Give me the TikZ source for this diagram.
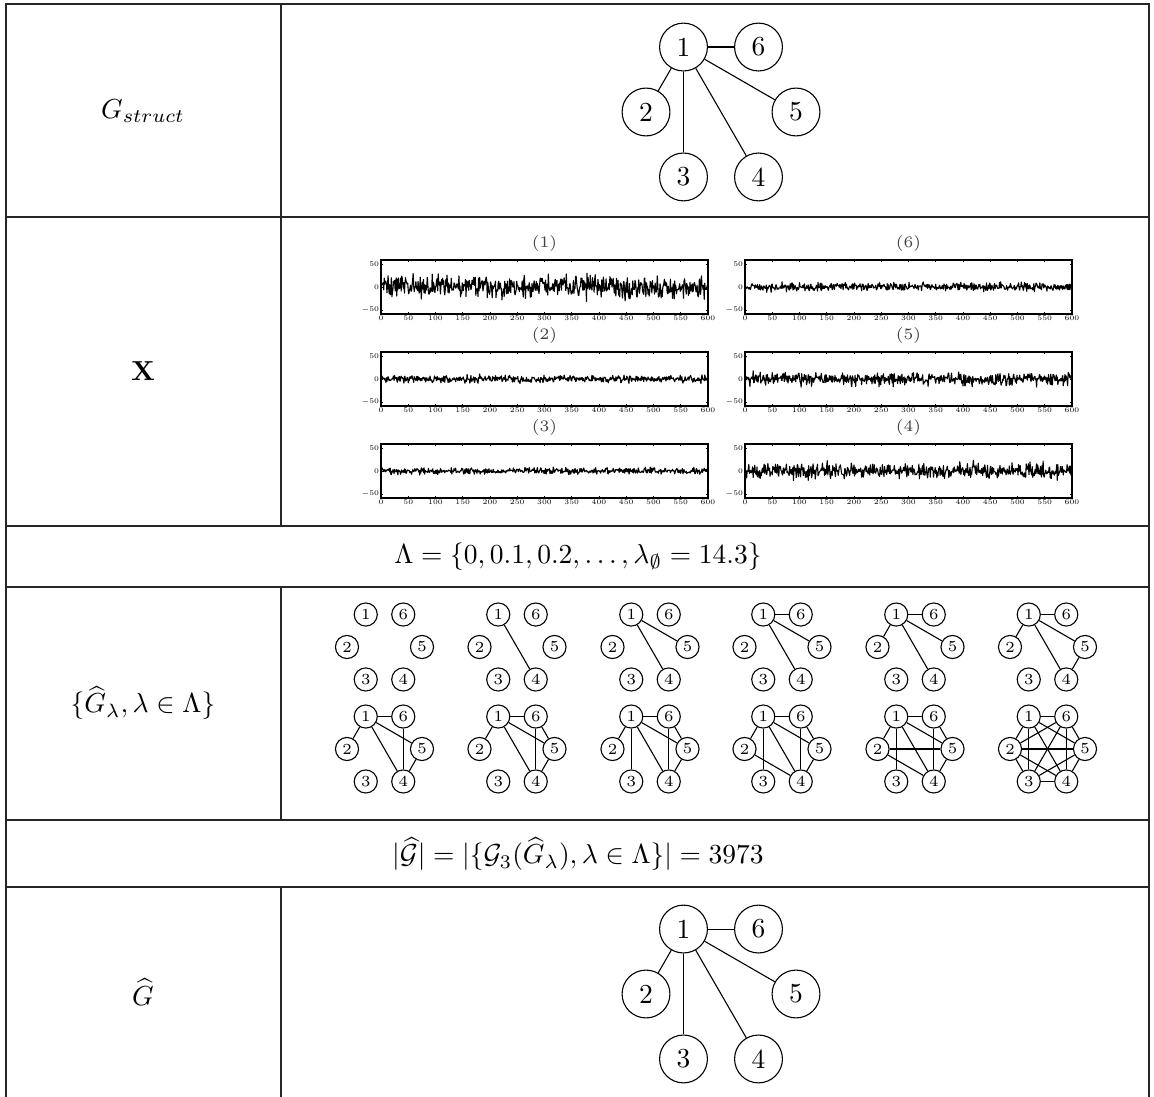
\documentclass[tikz,border=0pt]{standalone}
\usepackage{amsmath,amsfonts,amssymb}
\usepackage{tikz}
\usetikzlibrary{calc}

\begin{document}
\begin{tikzpicture}[
    x=0.3636pt, y=-0.3636pt,
    font=\normalsize,
    rule/.style={line width=0.45pt, black!85},
    vert/.style={draw, circle, inner sep=0pt, minimum size=17.4pt},
    svert/.style={draw, circle, inner sep=0pt, minimum size=8.4pt, font=\fontsize{5.6}{6}\selectfont},
    edge/.style={line width=0.4pt},
    axbox/.style={line width=0.5pt},
    tickmark/.style={line width=0.25pt},
    tlab/.style={inner sep=1.2pt, font=\tiny, scale=0.52},
    ptitle/.style={font=\fontsize{5.8}{6}\selectfont, text=black!75},
    sig/.style={line width=0.4pt, line join=round}
]
\useasboundingbox (0,0) rectangle (1154,1097);
\pgfmathsetseed{7}

% table rules
\draw[rule] (6,1097) -- (6,4) -- (1149,4) -- (1149,1097);
\foreach \ry in {217,526,587,820,887}
  \draw[rule] (6,\ry) -- (1149,\ry);
\draw[rule] (281,4) -- (281,526);
\draw[rule] (281,587) -- (281,820);
\draw[rule] (281,887) -- (281,1097);

% row labels
\node (lstruct) at (143,111) {$G_{struct}$};
\node (lx) at (143,371) {$\mathbf{X}$};
\node (llam) at (578,557) {$\Lambda = \{0, 0.1, 0.2, \ldots, \lambda_{\emptyset} = 14.3\}$};
\node (lpath) at (143,703) {$\{\widehat{G}_\lambda, \lambda \in \Lambda\}$};
\node (lcard) at (578,854) {$|\widehat{\mathcal{G}}| = |\{\mathcal{G}_3(\widehat{G}_\lambda), \lambda \in \Lambda\}| = 3973$};
\node (lhat) at (143,992) {$\widehat{G}$};

% structural graph and estimate
\begin{scope}[shift={(721,112)}]
  \foreach \n/\a in {1/240,6/300,5/0,4/60,3/120,2/180}
    \node[vert] (s\n) at (\a:75) {\n};
\end{scope}
\begin{scope}[shift={(721,994)}]
  \foreach \n/\a in {1/240,6/300,5/0,4/60,3/120,2/180}
    \node[vert] (h\n) at (\a:75) {\n};
\end{scope}
\foreach \v in {6,2,3,4,5} {
  \draw[edge] (s1) -- (s\v);
  \draw[edge] (h1) -- (h\v);
}

% time series
\foreach \nm/\px/\py/\amp in {1/381/260/12, 2/381/352/4, 3/381/444/3.5, 6/745/260/4.5, 5/745/352/7, 4/745/444/8} {
  \begin{scope}[shift={(\px,\py)}]
    \node[ptitle] (t\nm) at (163.5,-16) {(\nm)};
    \draw[sig] plot[domain=0:600, samples=601] ({\x*0.545}, {27-\amp*(rand+rand+rand)*0.46});
    \foreach \t in {0,50,...,600} {
      \draw[tickmark] (\t*0.545,54) -- ++(0,-2);
      \draw[tickmark] (\t*0.545,0) -- ++(0,2);
      \node[tlab, below] at (\t*0.545,54) {\t};
    }
    \foreach \v in {50,0,-50} {
      \draw[tickmark] (0,27-\v*0.46) -- ++(2,0);
      \draw[tickmark] (327,27-\v*0.46) -- ++(-2,0);
      \node[tlab, left] at (0,27-\v*0.46) {$\v$};
    }
    \draw[axbox] (0,0) rectangle (327,54);
  \end{scope}
}

% regularisation path
\foreach \g/\cx/\cy in {a/384.5/647, b/517/647, c/650/647, d/782/647, e/915/647, f/1047.5/647,
                         g/384.5/749, h/517/749, i/650/749, j/782/749, k/915/749, l/1047.5/749} {
  \begin{scope}[shift={(\cx,\cy)}]
    \foreach \n/\a in {1/240,6/300,5/0,4/60,3/120,2/180}
      \node[svert] (\g\n) at (\a:37.5) {\n};
  \end{scope}
}
\foreach \u/\v in {1/4} \draw[edge] (b\u) -- (b\v);
\foreach \u/\v in {1/4,1/5} \draw[edge] (c\u) -- (c\v);
\foreach \u/\v in {1/6,1/5,1/4} \draw[edge] (d\u) -- (d\v);
\foreach \u/\v in {1/6,1/2,1/5,1/4} \draw[edge] (e\u) -- (e\v);
\foreach \u/\v in {1/6,1/2,1/5,1/4,5/4} \draw[edge] (f\u) -- (f\v);
\foreach \u/\v in {1/6,1/2,1/5,1/4,6/4,5/4} \draw[edge] (g\u) -- (g\v);
\foreach \u/\v in {1/6,1/2,1/5,1/4,6/4,6/5,5/4} \draw[edge] (h\u) -- (h\v);
\foreach \u/\v in {1/6,1/2,1/3,1/5,1/4,6/4,6/5,5/4} \draw[edge] (i\u) -- (i\v);
\foreach \u/\v in {1/6,1/2,1/3,1/5,1/4,6/4,6/5,5/4,2/4} \draw[edge] (j\u) -- (j\v);
\foreach \u/\v in {1/6,1/2,1/3,1/5,1/4,6/4,6/5,5/4,2/4,2/5} \draw[edge] (k\u) -- (k\v);
\foreach \u/\v in {1/2,1/3,1/4,1/5,1/6,2/3,2/4,2/5,2/6,3/4,3/5,3/6,4/5,4/6,5/6} \draw[edge] (l\u) -- (l\v);
\end{tikzpicture}
\end{document}
